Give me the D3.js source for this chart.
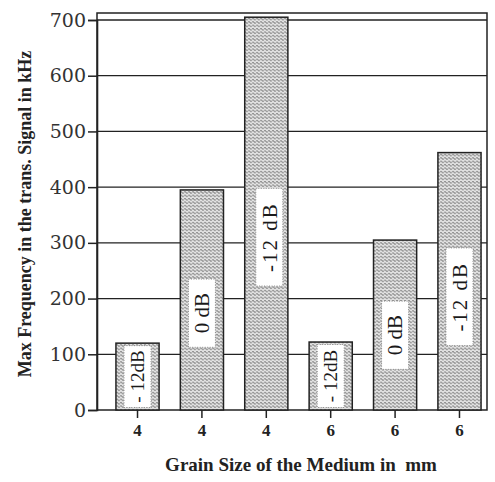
<!DOCTYPE html>
<meta charset="utf-8">
<style>
body{margin:0;background:#fff;}
svg{display:block}
</style>
<svg id="chart" width="495" height="482"></svg>
<script src="https://d3js.org/d3.v7.min.js"></script>
<script>
// grain size in mm for each bar, max frequency in kHz, and the dB label written on it
const grain = ["4", "4", "4", "6", "6", "6"]
const freq = [120, 395, 705, 122, 305, 462]
const dbLabel = ["- 12dB", "0 dB", "-12 dB", "- 12dB", "0 dB", "-12 dB"]
const yTicks = [0, 100, 200, 300, 400, 500, 600, 700]

const svg = d3.select("#chart")
const plotL = 97, plotR = 487, plotT = 13, plotB = 410

const x = d3.scaleBand()
  .domain(d3.range(freq.length))
  .range([105, 492])
  .paddingInner(0.33)
  .paddingOuter(0.17)

const y = d3.scaleLinear().domain([0, 700]).range([plotB, 20])

// wavy hatch used for every bar
const pat = svg.append("defs").append("pattern")
  .attr("id", "wave")
  .attr("patternUnits", "userSpaceOnUse")
  .attr("width", 4).attr("height", 3.4)
pat.append("rect").attr("width", 4).attr("height", 3.4).attr("fill", "#e2e2e2")
pat.append("path")
  .attr("d", "M0,2.1 Q1,0.3 2,2.1 T4,2.1")
  .attr("fill", "none").attr("stroke", "#3c3c3c").attr("stroke-width", 0.85)

// grid lines
svg.append("g").selectAll("line").data(yTicks.slice(1))
  .join("line")
  .attr("x1", plotL).attr("x2", plotR)
  .attr("y1", d => y(d)).attr("y2", d => y(d))
  .attr("stroke", "#222").attr("stroke-width", 1.3)

// frame
svg.append("rect")
  .attr("x", plotL).attr("y", plotT)
  .attr("width", plotR - plotL).attr("height", plotB - plotT)
  .attr("fill", "none").attr("stroke", "#222").attr("stroke-width", 1.5)

// y axis
const yAxis = svg.append("g")
  .attr("transform", `translate(${plotL},0)`)
  .call(d3.axisLeft(y).tickValues(yTicks).tickSize(9).tickPadding(2))
yAxis.select(".domain").attr("stroke", "#222").attr("stroke-width", 1.6)
yAxis.selectAll(".tick line").attr("stroke", "#222").attr("stroke-width", 1.5)
yAxis.selectAll("text")
  .attr("font-family", "DejaVu Serif").attr("font-size", 19).attr("fill", "#333")

// x axis
const xAxis = svg.append("g")
  .attr("transform", `translate(0,${plotB})`)
  .call(d3.axisBottom(x).tickFormat(i => grain[i]).tickSize(8).tickPadding(6))
xAxis.select(".domain").remove()
xAxis.selectAll(".tick line").attr("stroke", "#222").attr("stroke-width", 1.5)
xAxis.selectAll("text")
  .attr("font-family", "Liberation Serif").attr("font-weight", "bold")
  .attr("font-size", 17).attr("fill", "#222")

// bars
const bars = svg.append("g").selectAll("g").data(freq).join("g")
bars.append("rect")
  .attr("x", (d, i) => x(i)).attr("width", x.bandwidth())
  .attr("y", d => y(d)).attr("height", d => plotB - y(d))
  .attr("fill", "url(#wave)").attr("stroke", "#222").attr("stroke-width", 1.5)

// rotated dB labels on white boxes
bars.each(function (d, i) {
  const g = d3.select(this)
  const small = dbLabel[i] === "- 12dB"
  const fs = small ? 19 : 21
  const cx = x(i) + x.bandwidth() / 2 + (i === 2 ? 3 : 0)
  const cy = y(small ? d / 2 : d * 0.44)
  const t = g.append("text")
    .attr("transform", `translate(${cx},${cy}) rotate(-90)`)
    .attr("text-anchor", "middle").attr("dy", "0.35em")
    .attr("font-family", "Liberation Serif").attr("font-size", fs)
    .attr("letter-spacing", dbLabel[i] === "-12 dB" ? 2 : 0)
    .attr("fill", "#1a1a1a").text(dbLabel[i])
  const len = t.node().getComputedTextLength()
  const h = small ? (plotB - y(d)) - 5 : len + 28
  g.insert("rect", "text")
    .attr("x", cx - 13.5).attr("width", 27)
    .attr("y", cy - h / 2).attr("height", h)
    .attr("fill", "#fff").attr("stroke", "#888")
    .attr("stroke-dasharray", "1,1.5").attr("stroke-width", 1)
})

// axis titles
svg.append("text")
  .attr("x", 301).attr("y", 471).attr("text-anchor", "middle")
  .attr("xml:space", "preserve")
  .attr("font-family", "Liberation Serif").attr("font-weight", "bold")
  .attr("font-size", 19).attr("fill", "#222")
  .text("Grain Size of the Medium in  mm")
svg.append("text")
  .attr("transform", "translate(25,214) rotate(-90)")
  .attr("text-anchor", "middle").attr("dy", "0.35em")
  .attr("font-family", "Liberation Serif").attr("font-weight", "bold")
  .attr("font-size", 18).attr("fill", "#222")
  .text("Max Frequency in the trans. Signal in kHz")
</script>
